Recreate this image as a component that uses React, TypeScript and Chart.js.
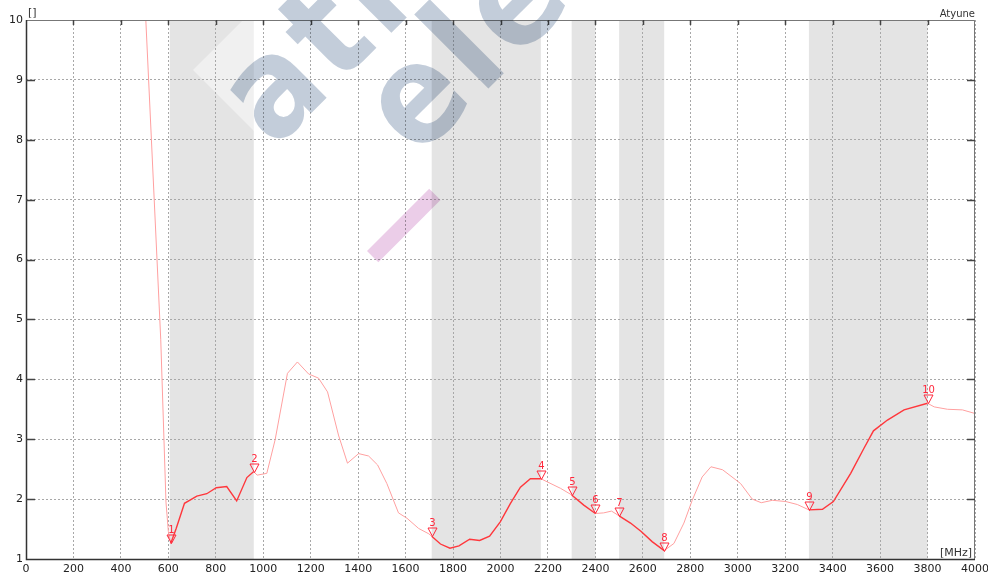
import React, { useEffect, useRef } from 'react';
import { Chart, registerables } from 'chart.js';

Chart.register(...registerables);

// Frequency samples (MHz) and VSWR values
const freqs = [
  500, 568, 590, 600, 610, 633, 668, 720, 762, 802, 846, 888, 931, 960, 974,
  1015, 1050, 1102, 1144, 1191, 1233, 1271, 1317, 1355, 1402, 1444, 1482, 1521,
  1570, 1606, 1655, 1698, 1710, 1747, 1787, 1825, 1870, 1912, 1954, 1999, 2042,
  2084, 2126, 2170, 2253, 2300, 2351, 2400, 2435, 2468, 2500, 2548, 2593, 2639,
  2690, 2731, 2773, 2808, 2850, 2887, 2936, 3012, 3061, 3099, 3146, 3202, 3251,
  3300, 3357, 3403, 3476, 3532, 3572, 3631, 3701, 3800, 3828, 3884, 3947, 4000,
];
const vswr = [
  10.43, 4.66, 1.95, 1.46, 1.26, 1.51, 1.93, 2.05, 2.09, 2.19, 2.21, 1.97, 2.36, 2.46, 2.4,
  2.43, 2.99, 4.1, 4.29, 4.09, 4.02, 3.79, 3.07, 2.6, 2.76, 2.72, 2.57, 2.26,
  1.77, 1.68, 1.51, 1.42, 1.38, 1.25, 1.18, 1.22, 1.33, 1.31, 1.38, 1.62, 1.93,
  2.2, 2.34, 2.34, 2.18, 2.07, 1.9, 1.76, 1.77, 1.8, 1.72, 1.6, 1.46, 1.29,
  1.14, 1.26, 1.6, 1.98, 2.37, 2.54, 2.49, 2.26, 2.0, 1.94, 1.98, 1.96, 1.91,
  1.82, 1.83, 1.96, 2.43, 2.85, 3.14, 3.32, 3.49, 3.6, 3.54, 3.5, 3.49, 3.43,
];

// Highlighted frequency bands (MHz)
const bandStarts = [606, 1710, 2300, 2500, 3300];
const bandEnds = [960, 2170, 2400, 2690, 3800];

// Markers
const markerFreqs = [610, 960, 1710, 2170, 2300, 2400, 2500, 2690, 3300, 3800];
const markerLabels = ['1', '2', '3', '4', '5', '6', '7', '8', '9', '10'];

// Axis settings
const xMin = 0;
const xMax = 4000;
const xStep = 200;
const yMin = 1;
const yMax = 10;
const yStep = 1;

const titleRight = 'Atyune';
const yUnit = '[]';
const xUnit = '[MHz]';
const watermarkLines = ['atl', 'ele'];

const RED = 'rgb(255, 55, 60)';
const PINK = 'rgb(255, 160, 160)';
const MARK = 'rgb(255, 40, 60)';
const FONT = '"DejaVu Sans", Verdana, sans-serif';

function inBand(f: number) {
  for (let i = 0; i < bandStarts.length; i++) {
    if (f >= bandStarts[i] && f <= bandEnds[i]) return true;
  }
  return false;
}

const bandsPlugin = {
  id: 'bands',
  beforeDraw(chart: any) {
    const { ctx, chartArea: a, scales } = chart;
    const xs = scales.x;
    ctx.save();
    ctx.fillStyle = '#e4e4e4';
    for (let i = 0; i < bandStarts.length; i++) {
      const x0 = xs.getPixelForValue(bandStarts[i]);
      const x1 = xs.getPixelForValue(bandEnds[i]);
      ctx.fillRect(x0, a.top, x1 - x0, a.bottom - a.top);
    }
    // pale watermark backdrop
    ctx.beginPath();
    ctx.rect(a.left, a.top, a.right - a.left, a.bottom - a.top);
    ctx.clip();
    ctx.rotate(-Math.PI / 4);
    ctx.fillStyle = 'rgba(255,255,255,0.45)';
    ctx.fillRect(87, 186, 153, 154);
    ctx.restore();
  },
};

const markersPlugin = {
  id: 'markers',
  afterDatasetsDraw(chart: any) {
    const { ctx, scales } = chart;
    const xs = scales.x;
    const ys = scales.y;
    ctx.save();
    ctx.strokeStyle = MARK;
    ctx.fillStyle = MARK;
    ctx.lineWidth = 1;
    ctx.font = '10px ' + FONT;
    ctx.textAlign = 'center';
    ctx.textBaseline = 'alphabetic';
    markerFreqs.forEach((f, i) => {
      const idx = freqs.indexOf(f);
      const v = vswr[idx];
      const x = Math.round(xs.getPixelForValue(f)) + 0.5;
      const y = Math.round(ys.getPixelForValue(v)) + 0.5;
      ctx.beginPath();
      ctx.moveTo(x - 4.5, y - 8.5);
      ctx.lineTo(x + 4.5, y - 8.5);
      ctx.lineTo(x, y);
      ctx.closePath();
      ctx.stroke();
      ctx.fillText(markerLabels[i], x, y - 11);
    });
    ctx.restore();
  },
};

const framePlugin = {
  id: 'frame',
  afterDraw(chart: any) {
    const { ctx, chartArea: a, scales } = chart;
    const xs = scales.x;
    const ys = scales.y;
    ctx.save();
    // frame
    ctx.lineWidth = 1;
    ctx.strokeStyle = '#777';
    ctx.beginPath();
    ctx.moveTo(a.left, a.top + 0.5);
    ctx.lineTo(a.right - 0.5, a.top + 0.5);
    ctx.lineTo(a.right - 0.5, a.bottom);
    ctx.stroke();
    ctx.strokeStyle = '#333';
    ctx.lineWidth = 1.5;
    ctx.beginPath();
    ctx.moveTo(a.left + 0.5, a.top);
    ctx.lineTo(a.left + 0.5, a.bottom + 0.5);
    ctx.lineTo(a.right, a.bottom + 0.5);
    ctx.stroke();
    // inward ticks
    ctx.lineWidth = 1.5;
    ctx.strokeStyle = '#444';
    ctx.beginPath();
    for (let v = xMin + xStep; v < xMax; v += xStep) {
      const x = Math.round(xs.getPixelForValue(v)) + 0.5;
      ctx.moveTo(x, a.top);
      ctx.lineTo(x, a.top + 5);
    }
    for (let v = yMin + yStep; v < yMax; v += yStep) {
      const y = Math.round(ys.getPixelForValue(v)) + 0.5;
      ctx.moveTo(a.left, y);
      ctx.lineTo(a.left + 9, y);
      ctx.moveTo(a.right, y);
      ctx.lineTo(a.right - 8, y);
    }
    ctx.stroke();
    // texts
    ctx.fillStyle = '#333';
    ctx.font = '11px ' + FONT;
    ctx.textAlign = 'left';
    ctx.textBaseline = 'alphabetic';
    ctx.fillText(yUnit, a.left + 2, a.top - 4);
    ctx.textAlign = 'right';
    ctx.fillText(xUnit, a.right - 3, a.bottom - 3);
    ctx.font = '10px ' + FONT;
    ctx.fillText(titleRight, a.right, a.top - 3);
    // watermark
    ctx.globalCompositeOperation = 'multiply';
    ctx.rotate(-Math.PI / 4);
    ctx.fillStyle = '#c3cdda';
    ctx.font = 'bold 138px "DejaVu Sans Condensed", "DejaVu Sans", sans-serif';
    try { (ctx as any).letterSpacing = '6px'; } catch (e) {}
    ctx.textAlign = 'left';
    ctx.fillText(watermarkLines[0], 88, 300);
    ctx.fillText(watermarkLines[1], 182, 408);
    ctx.fillStyle = '#ebcde8';
    ctx.fillRect(82, 437, 88, 16);
    ctx.restore();
  },
};

export default function App() {
  const ref = useRef<HTMLCanvasElement | null>(null);
  useEffect(() => {
    if (!ref.current) return;
    const data = freqs.map((f, i) => ({ x: f, y: vswr[i] }));
    const chart = new Chart(ref.current, {
      type: 'line',
      data: {
        datasets: [
          {
            data,
            borderColor: PINK,
            borderWidth: 1,
            pointRadius: 0,
            tension: 0,
            segment: {
              borderColor: (c: any) => (inBand((c.p0.parsed.x + c.p1.parsed.x) / 2) ? RED : PINK),
              borderWidth: (c: any) => (inBand((c.p0.parsed.x + c.p1.parsed.x) / 2) ? 1.4 : 1),
            },
          } as any,
        ],
      },
      options: {
        animation: false,
        responsive: false,
        devicePixelRatio: 1,
        layout: { padding: { top: 20, right: 13, left: 0, bottom: 0 } },
        plugins: { legend: { display: false }, tooltip: { enabled: false } },
        scales: {
          x: {
            type: 'linear',
            min: xMin,
            max: xMax,
            afterFit: (s: any) => { s.height = 16; s.paddingLeft = 0; s.paddingRight = 0; },
            ticks: {
              stepSize: xStep,
              autoSkip: false,
              maxRotation: 0,
              padding: 4,
              color: '#222',
              font: { family: FONT, size: 11 },
              callback: (v: any) => String(v),
            },
            grid: { color: '#a8a8a8', lineWidth: 1, drawTicks: false },
            border: { display: false, dash: [2, 2] },
          },
          y: {
            type: 'linear',
            min: yMin,
            max: yMax,
            afterFit: (s: any) => { s.width = 26; s.paddingTop = 0; s.paddingBottom = 0; },
            ticks: {
              stepSize: yStep,
              padding: 3,
              color: '#222',
              font: { family: FONT, size: 11 },
              callback: (v: any) => String(v),
            },
            grid: { color: '#a8a8a8', lineWidth: 1, drawTicks: false },
            border: { display: false, dash: [2, 2] },
          },
        },
      } as any,
      plugins: [bandsPlugin, markersPlugin, framePlugin],
    });
    return () => chart.destroy();
  }, []);
  return (
    <div style={{ position: 'absolute', left: 0, top: 0, width: 988, height: 575, background: '#fff' }}>
      <canvas ref={ref} width={988} height={575} style={{ display: 'block' }} />
    </div>
  );
}
